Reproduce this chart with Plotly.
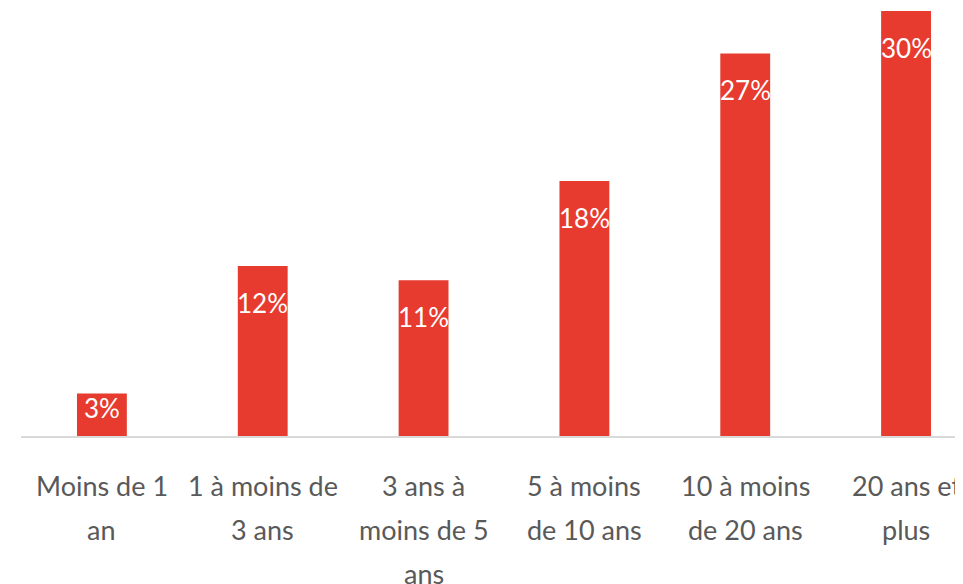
import plotly.graph_objects as go

categories = [
    "Moins de 1<br>an",
    "1 à moins de<br>3 ans",
    "3 ans à<br>moins de 5<br>ans",
    "5 à moins<br>de 10 ans",
    "10 à moins<br>de 20 ans",
    "20 ans et<br>plus",
]
values = [3, 12, 11, 18, 27, 30]
labels = ["3%", "12%", "11%", "18%", "27%", "30%"]

RED = "#E63B2E"
GREY = "#595959"
FONT = "Lato"

# page has an 8px body margin, so the figure is sized to the visible area
W, H = 955, 576
M_L, M_B, M_T = 13, 148, 0
Y_MAX = 30.21
px_per_unit = (H - M_B - M_T) / Y_MAX

x = list(range(len(values)))

fig = go.Figure(go.Bar(
    x=x, y=values,
    marker=dict(color=RED, line=dict(width=0)),
    hoverinfo="skip",
))

# value labels inside the top of each bar
for i, (v, t) in enumerate(zip(values, labels)):
    shift = min(37, v * px_per_unit / 2 - 7)
    fig.add_annotation(
        x=i, y=v, xref="x", yref="y", text=t, showarrow=False,
        yanchor="middle", yshift=-shift,
        font=dict(family=FONT, size=26, color="white"),
    )

# category labels, one annotation per line for the wider line spacing
for i, cat in enumerate(categories):
    for j, line in enumerate(cat.split("<br>")):
        fig.add_annotation(
            x=i, y=0, xref="x", yref="paper", text=line, showarrow=False,
            yanchor="middle", yshift=-(49 + 44 * j),
            font=dict(family=FONT, size=27, color=GREY),
        )

fig.update_layout(
    width=W, height=H,
    margin=dict(l=M_L, r=0, t=M_T, b=M_B),
    plot_bgcolor="white", paper_bgcolor="white",
    bargap=0.69,
    showlegend=False,
    xaxis=dict(
        range=[-0.503, 5.354], showticklabels=False, showgrid=False,
        zeroline=False, showline=True, linecolor="#D9D9D9", linewidth=2,
        ticks="",
    ),
    yaxis=dict(range=[0, Y_MAX], visible=False),
)

fig.write_html("out.html")
